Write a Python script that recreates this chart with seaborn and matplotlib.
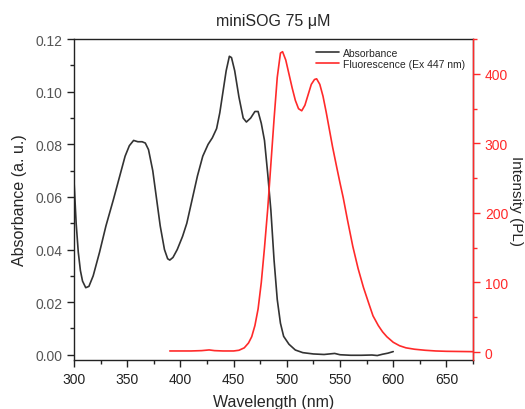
import numpy as np
import pandas as pd
import matplotlib
matplotlib.use("Agg")
import matplotlib.pyplot as plt
import seaborn as sns
from matplotlib.ticker import MultipleLocator
from matplotlib.lines import Line2D

# ---- data ----
abs_wl = [300, 302, 304, 306, 308, 311, 314, 318, 324, 330, 337, 343, 348, 352, 356, 360, 364, 367,
          370, 374, 378, 381, 385, 388, 390, 393, 397, 402, 406, 411, 416, 421, 426, 430, 434, 437,
          440, 443, 446, 448, 451, 455, 459, 462, 466, 470, 473, 476, 479, 482, 485, 488, 491, 494,
          497, 502, 508, 515, 525, 535, 545, 550, 560, 570, 580, 585, 590, 595, 600]
abs_val = [0.066, 0.050, 0.039, 0.032, 0.028, 0.0255, 0.026, 0.030, 0.039, 0.049, 0.059, 0.068,
           0.0755, 0.0795, 0.0815, 0.081, 0.081, 0.0805, 0.078, 0.070, 0.058, 0.049, 0.040, 0.0365,
           0.036, 0.037, 0.040, 0.045, 0.050, 0.059, 0.068, 0.0755, 0.080, 0.0825, 0.086, 0.092,
           0.100, 0.108, 0.1135, 0.113, 0.108, 0.098, 0.090, 0.0885, 0.090, 0.0925, 0.0925, 0.088,
           0.0815, 0.069, 0.055, 0.036, 0.021, 0.012, 0.007, 0.004, 0.0018, 0.0008, 0.0003, 0.0001,
           0.0005, 0.0, -0.0002, -0.0002, -0.0001, -0.0003, 0.0002, 0.0006, 0.0012]

fl_wl = [390, 400, 410, 420, 427, 432, 440, 450, 455, 460, 464, 467, 470, 473, 476, 479, 482, 485,
         488, 491, 494, 496, 499, 502, 505, 508, 511, 514, 517, 520, 523, 526, 528, 531, 534, 537,
         540, 543, 547, 550, 553, 557, 562, 567, 572, 577, 581, 586, 590, 594, 600, 606, 612, 620,
         630, 640, 650, 660, 675]
fl_val = [1.5, 1.5, 1.5, 2, 3, 2, 1.5, 1.5, 2.5, 6, 13, 22, 38, 62, 100, 150, 205, 270,
          335, 395, 430, 432, 420, 400, 380, 362, 350, 347, 355, 370, 385, 392, 393, 385, 368, 345,
          320, 295, 265, 243, 222, 190, 152, 120, 93, 70, 52, 38, 29, 22, 14, 9, 6, 4,
          2.5, 1.5, 1, 0.8, 0.5]

title = "miniSOG 75 \u03bcM"
xlabel = "Wavelength (nm)"
ylabel_left = "Absorbance (a. u.)"
ylabel_right = "Intensity (PL)"
legend_labels = ["Absorbance", "Fluorescence (Ex 447 nm)"]

# ---- style ----
sns.set_style("ticks")
plt.rcParams['font.family'] = ['Liberation Sans', 'DejaVu Sans']

abs_col = "#333333"
fl_col = "#ff2a2a"

fig = plt.figure(figsize=(5.25, 4.10), dpi=100)
ax = fig.add_axes([0.141, 0.1195, 0.760, 0.7825])
ax2 = ax.twinx()

df_abs = pd.DataFrame({"wl": abs_wl, "val": abs_val})
df_fl = pd.DataFrame({"wl": fl_wl, "val": fl_val})

sns.lineplot(data=df_abs, x="wl", y="val", ax=ax, color=abs_col, linewidth=1.2, sort=False)
sns.lineplot(data=df_fl, x="wl", y="val", ax=ax2, color=fl_col, linewidth=1.2, sort=False)

ax.set_xlim(300, 675)
ax.set_ylim(-0.002, 0.12)
ax2.set_ylim(-11.5, 450)

ax.xaxis.set_major_locator(MultipleLocator(50))
ax.xaxis.set_minor_locator(MultipleLocator(25))
ax.yaxis.set_major_locator(MultipleLocator(0.02))
ax.yaxis.set_minor_locator(MultipleLocator(0.01))
ax2.set_yticks([0, 100, 200, 300, 400])
ax2.yaxis.set_minor_locator(MultipleLocator(50))

ax.yaxis.set_major_formatter(matplotlib.ticker.FormatStrFormatter('%.2f'))

for a in (ax, ax2):
    for s in a.spines.values():
        s.set_linewidth(1.0)
ax.spines['top'].set_color('#222222')
ax.spines['left'].set_color('#222222')
ax.spines['bottom'].set_color('#222222')
ax2.spines['right'].set_color(fl_col)
ax2.spines['top'].set_visible(False)
ax2.spines['left'].set_visible(False)
ax2.spines['bottom'].set_visible(False)

ax.tick_params(axis='both', which='major', direction='out', length=5, width=1, color='#222222', labelsize=10)
ax.tick_params(axis='both', which='minor', direction='out', length=3, width=1, color='#222222')
ax.tick_params(axis='y', labelcolor='#555555')
ax.tick_params(axis='x', labelcolor='#222222')
ax.tick_params(axis='y', which='both', right=False)
ax.tick_params(axis='x', which='both', top=False)
ax2.tick_params(axis='y', which='major', direction='out', length=5, width=1, color=fl_col,
                labelcolor=fl_col, labelsize=10)
ax2.tick_params(axis='y', which='minor', direction='out', length=3, width=1, color=fl_col)

ax.set_xlabel(xlabel, fontsize=11.5, labelpad=6)
ax.set_ylabel(ylabel_left, fontsize=11.5, labelpad=6)
ax2.set_ylabel(ylabel_right, fontsize=11, rotation=270, va='center', ha='center')
ax2.yaxis.set_label_coords(1.107, 0.5)
ax.set_title(title, fontsize=11.5, pad=10)

handles = [Line2D([0], [0], color=abs_col, lw=1.2), Line2D([0], [0], color=fl_col, lw=1.2)]
ax2.legend(handles, legend_labels, loc='upper right', bbox_to_anchor=(1.0, 1.0), frameon=False,
           fontsize=7.5, handlelength=2.2, handletextpad=0.35, labelspacing=0.15, borderaxespad=0.4)

fig.savefig("out.png", dpi=100)
